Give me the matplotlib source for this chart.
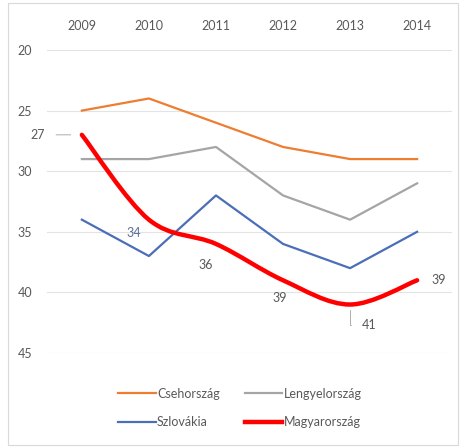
import matplotlib
matplotlib.use("Agg")
import matplotlib.pyplot as plt
from matplotlib.path import Path
from matplotlib.patches import PathPatch
from matplotlib.lines import Line2D

plt.rcParams['font.family'] = ['Lato', 'DejaVu Sans']

years = ['2009', '2010', '2011', '2012', '2013', '2014']
cseh = [25, 24, 26, 28, 29, 29]
lengyel = [29, 29, 28, 32, 34, 31]
szlovak = [34, 37, 32, 36, 38, 35]
magyar = [27, 34, 36, 39, 41, 39]

c_cz, c_pl, c_sk, c_hu = '#ED7D31', '#A5A5A5', '#4A6EB8', '#FF0000'
txt = '#595959'

fig = plt.figure(figsize=(4.66, 4.48), dpi=100)
ax = fig.add_axes([47/466, 1-353/448, (452-47)/466, (353-50)/448])
x = list(range(len(years)))

ax.plot(x, cseh, color=c_cz, lw=1.6, solid_joinstyle='round')
ax.plot(x, lengyel, color=c_pl, lw=1.6, solid_joinstyle='round')
ax.plot(x, szlovak, color=c_sk, lw=1.6, solid_joinstyle='round')

# smoothed red line (Bezier through data points, Excel-style)
pts = list(zip(x, magyar))
verts = [pts[0]]
codes = [Path.MOVETO]
n = len(pts)
for i in range(n - 1):
    p0 = pts[i - 1] if i > 0 else pts[i]
    p1 = pts[i]
    p2 = pts[i + 1]
    p3 = pts[i + 2] if i + 2 < n else pts[i + 1]
    c1 = (p1[0] + (p2[0] - p0[0]) / 6, p1[1] + (p2[1] - p0[1]) / 6)
    c2 = (p2[0] - (p3[0] - p1[0]) / 6, p2[1] - (p3[1] - p1[1]) / 6)
    verts += [c1, c2, p2]
    codes += [Path.CURVE4] * 3
ax.add_patch(PathPatch(Path(verts, codes), facecolor='none', edgecolor=c_hu,
                       lw=3.2, capstyle='round', joinstyle='round', zorder=4))

ax.set_ylim(45, 20)
ax.set_xlim(-0.52, 5.52)
ax.set_yticks([20, 25, 30, 35, 40, 45])
ax.set_xticks(x)
ax.set_xticklabels(years)
ax.xaxis.tick_top()
ax.tick_params(axis='both', length=0, labelsize=9, colors=txt)
ax.tick_params(axis='x', pad=13)
ax.tick_params(axis='y', pad=21)
for t in ax.get_yticklabels():
    t.set_horizontalalignment('left')
ax.grid(axis='y', color='#E3E3E3', lw=0.8)
for s in ax.spines.values():
    s.set_visible(False)

# data labels for Magyarország
fs = 9
ax.annotate(str(magyar[0]), xy=(x[0], magyar[0]), xytext=(-0.55, magyar[0]),
            ha='right', va='center', fontsize=fs, color=txt,
            arrowprops=dict(arrowstyle='-', color='#A0A0A0', lw=0.6, shrinkA=6, shrinkB=8))
ax.text(x[1] - 0.23, magyar[1] + 1.1, str(magyar[1]), ha='center', va='center',
        fontsize=fs, color='#5A6E9A')
ax.text(x[2] - 0.16, magyar[2] + 1.7, str(magyar[2]), ha='center', va='center',
        fontsize=fs, color=txt)
ax.text(x[3] - 0.05, magyar[3] + 1.5, str(magyar[3]), ha='center', va='center',
        fontsize=fs, color=txt)
ax.annotate(str(magyar[4]), xy=(x[4], magyar[4] + 0.45), xytext=(x[4] + 0.29, magyar[4] + 1.7),
            ha='center', va='center', fontsize=fs, color=txt,
            arrowprops=dict(arrowstyle='-', color='#A0A0A0', lw=0.6, shrinkA=6, shrinkB=0,
                            connectionstyle='angle,angleA=0,angleB=90,rad=0'))
ax.text(x[5] + 0.32, magyar[5], str(magyar[5]), ha='center', va='center',
        fontsize=fs, color=txt)

handles = [Line2D([], [], color=c_cz, lw=1.6), Line2D([], [], color=c_sk, lw=1.6),
           Line2D([], [], color=c_pl, lw=1.6), Line2D([], [], color=c_hu, lw=3.2)]
labels = ['Csehország', 'Szlovákia', 'Lengyelország', 'Magyarország']
fig.legend(handles, labels, ncol=2, loc='center', bbox_to_anchor=(0.515, 1-408/448),
           frameon=False, fontsize=9, labelcolor=txt, handlelength=3.0,
           handletextpad=0.1, columnspacing=2.0, labelspacing=1.35)

fig.patches.append(plt.Rectangle((8/466, 3/448), 450/466, 442/448, transform=fig.transFigure,
                                 fill=False, edgecolor='#D9D9D9', lw=0.8))
fig.savefig('out.png', dpi=100)
